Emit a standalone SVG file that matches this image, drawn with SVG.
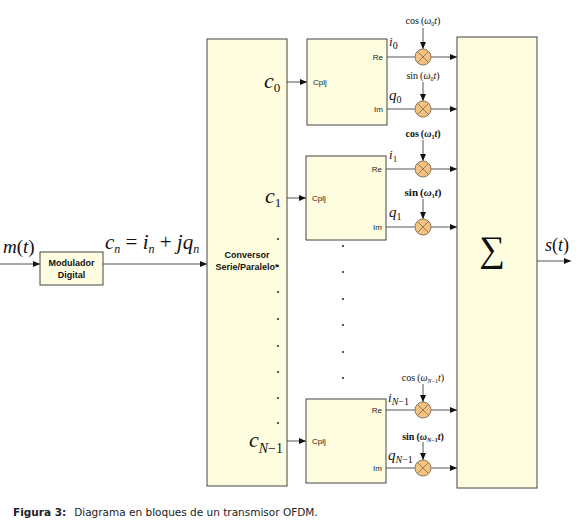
<svg xmlns="http://www.w3.org/2000/svg" width="577" height="530" viewBox="0 0 577 530">
<style>
.box{fill:#fffde0;stroke:#444;stroke-width:1}
.mul{fill:#f5c27f;stroke:#8a7a66;stroke-width:1}
.x{stroke:#7a6a55;stroke-width:0.8}
.ln{stroke:#555;stroke-width:1;fill:none}
.s{font-family:"Liberation Sans",Arial,sans-serif;font-size:8px;fill:#222}
.b{font-family:"Liberation Sans",Arial,sans-serif;font-size:9px;font-weight:bold;fill:#111}
.m{font-family:"Liberation Serif","Times New Roman",serif;font-style:italic;fill:#111}
.n{font-family:"Liberation Serif","Times New Roman",serif;font-style:normal;fill:#111}
.cap{font-family:"DejaVu Sans",Verdana,sans-serif;font-size:10.5px;fill:#222}
.dot{fill:#222}
</style>
<defs>
<marker id="ah" markerWidth="8" markerHeight="6" refX="7" refY="3" orient="auto" markerUnits="userSpaceOnUse">
<path d="M0,0 L7,3 L0,6 z" fill="#111"/>
</marker>
<g id="mx">
<circle r="8" class="mul"/>
<line x1="-5.6" y1="-5.6" x2="5.6" y2="5.6" class="x"/>
<line x1="-5.6" y1="5.6" x2="5.6" y2="-5.6" class="x"/>
</g>
</defs>
<g id="connectors">
<line x1="0" y1="264" x2="40" y2="264" class="ln" marker-end="url(#ah)"/>
<line x1="103" y1="264" x2="207" y2="264" class="ln" marker-end="url(#ah)"/>
<line x1="287" y1="82" x2="307" y2="82" class="ln" marker-end="url(#ah)"/>
<line x1="287" y1="198" x2="306" y2="198" class="ln" marker-end="url(#ah)"/>
<line x1="287" y1="441" x2="306" y2="441" class="ln" marker-end="url(#ah)"/>
<line x1="387" y1="57" x2="415" y2="57" class="ln"/>
<line x1="431" y1="57" x2="457" y2="57" class="ln" marker-end="url(#ah)"/>
<line x1="387" y1="109" x2="415" y2="109" class="ln"/>
<line x1="431" y1="109" x2="457" y2="109" class="ln" marker-end="url(#ah)"/>
<line x1="386" y1="169" x2="415" y2="169" class="ln"/>
<line x1="431" y1="169" x2="457" y2="169" class="ln" marker-end="url(#ah)"/>
<line x1="386" y1="227" x2="415" y2="227" class="ln"/>
<line x1="431" y1="227" x2="457" y2="227" class="ln" marker-end="url(#ah)"/>
<line x1="386" y1="410" x2="415" y2="410" class="ln"/>
<line x1="431" y1="410" x2="457" y2="410" class="ln" marker-end="url(#ah)"/>
<line x1="386" y1="468" x2="415" y2="468" class="ln"/>
<line x1="431" y1="468" x2="457" y2="468" class="ln" marker-end="url(#ah)"/>
<line x1="423" y1="28" x2="423" y2="49" class="ln" marker-end="url(#ah)"/>
<line x1="423" y1="82" x2="423" y2="101" class="ln" marker-end="url(#ah)"/>
<line x1="423" y1="140" x2="423" y2="161" class="ln" marker-end="url(#ah)"/>
<line x1="423" y1="199" x2="423" y2="219" class="ln" marker-end="url(#ah)"/>
<line x1="423" y1="384" x2="423" y2="402" class="ln" marker-end="url(#ah)"/>
<line x1="423" y1="442" x2="423" y2="460" class="ln" marker-end="url(#ah)"/>
<line x1="537" y1="261" x2="571" y2="261" class="ln" marker-end="url(#ah)"/>
</g>
<g id="modulador">
<rect x="40" y="252" width="63" height="33" class="box"/>
<text x="71.5" y="266" class="b" text-anchor="middle">Modulador</text>
<text x="71.5" y="278" class="b" text-anchor="middle">Digital</text>
</g>
<g id="conversor">
<rect x="207" y="39" width="80" height="447" class="box"/>
<text x="247" y="258" class="b" font-size="8" text-anchor="middle">Conversor</text>
<text x="247" y="270" class="b" font-size="8" text-anchor="middle">Serie/Paralelo*</text>
</g>
<g id="cplj0">
<rect x="307" y="39" width="80" height="86" class="box"/>
<text x="313" y="85" class="s">Cplj</text>
<text x="383" y="60" class="s" text-anchor="end">Re</text>
<text x="383" y="112" class="s" text-anchor="end">Im</text>
</g>
<g id="cplj1">
<rect x="306" y="156" width="80" height="84" class="box"/>
<text x="312" y="201" class="s">Cplj</text>
<text x="382" y="172" class="s" text-anchor="end">Re</text>
<text x="382" y="230" class="s" text-anchor="end">Im</text>
</g>
<g id="cpljN">
<rect x="306" y="399" width="80" height="84" class="box"/>
<text x="312" y="444" class="s">Cplj</text>
<text x="382" y="413" class="s" text-anchor="end">Re</text>
<text x="382" y="471" class="s" text-anchor="end">Im</text>
</g>
<g id="sum">
<rect x="457" y="37" width="80" height="451" class="box"/>
<text x="492" y="261" class="n" font-size="36" text-anchor="middle">∑</text>
</g>
<g id="multipliers">
<use href="#mx" x="423" y="57"/>
<use href="#mx" x="423" y="109"/>
<use href="#mx" x="423" y="169"/>
<use href="#mx" x="423" y="227"/>
<use href="#mx" x="423" y="410"/>
<use href="#mx" x="423" y="468"/>
</g>
<g id="labels">
<text x="3" y="253" class="m" font-size="19">m<tspan class="n">(</tspan>t<tspan class="n">)</tspan></text>
<text x="105" y="249" class="m" font-size="21">c<tspan font-size="12" dy="4">n</tspan><tspan class="n" dy="-4"> = </tspan>i<tspan font-size="12" dy="4">n</tspan><tspan class="n" dy="-4"> + </tspan>jq<tspan font-size="12" dy="4">n</tspan></text>
<text x="264" y="88" class="m" font-size="22">c<tspan class="n" font-size="13" dy="4">0</tspan></text>
<text x="265" y="203" class="m" font-size="22">c<tspan class="n" font-size="13" dy="4">1</tspan></text>
<text x="249" y="447" class="m" font-size="22">c<tspan font-size="14" dy="6">N</tspan><tspan class="n" font-size="14">−1</tspan></text>
<text x="389" y="46" class="m" font-size="13">i<tspan class="n" font-size="10" dy="3">0</tspan></text>
<text x="389" y="100" class="m" font-size="15">q<tspan class="n" font-size="10" dy="3">0</tspan></text>
<text x="389" y="159" class="m" font-size="13">i<tspan class="n" font-size="9" dy="3">1</tspan></text>
<text x="389" y="217" class="m" font-size="15">q<tspan class="n" font-size="10" dy="3">1</tspan></text>
<text x="388" y="402" class="m" font-size="13">i<tspan font-size="10" dy="3">N</tspan><tspan class="n" font-size="10">−1</tspan></text>
<text x="388" y="460" class="m" font-size="15">q<tspan font-size="10" dy="3">N</tspan><tspan class="n" font-size="10">−1</tspan></text>
<text x="423" y="24" class="n" font-size="10" text-anchor="middle">cos<tspan dx="2">(</tspan><tspan class="m">ω</tspan><tspan class="n" font-size="6" dy="2">0</tspan><tspan class="m" dy="-2">t</tspan>)</text>
<text x="423" y="79" class="n" font-size="10" text-anchor="middle">sin<tspan dx="2">(</tspan><tspan class="m">ω</tspan><tspan class="n" font-size="6" dy="2">0</tspan><tspan class="m" dy="-2">t</tspan>)</text>
<text x="423" y="137" class="n" font-size="10" font-weight="bold" text-anchor="middle">cos<tspan dx="2">(</tspan><tspan class="m">ω</tspan><tspan class="n" font-size="6" dy="2">1</tspan><tspan class="m" dy="-2">t</tspan>)</text>
<text x="423" y="196" class="n" font-size="11" font-weight="bold" text-anchor="middle">sin<tspan dx="2">(</tspan><tspan class="m">ω</tspan><tspan class="n" font-size="6" dy="2">1</tspan><tspan class="m" dy="-2">t</tspan>)</text>
<text x="423" y="381" class="n" font-size="10" text-anchor="middle">cos<tspan dx="2">(</tspan><tspan class="m">ω</tspan><tspan class="m" font-size="6" dy="2">N</tspan><tspan font-size="6">−1</tspan><tspan class="m" dy="-2">t</tspan>)</text>
<text x="423" y="440" class="n" font-size="10" font-weight="bold" text-anchor="middle">sin<tspan dx="2">(</tspan><tspan class="m">ω</tspan><tspan class="m" font-size="6" dy="2">N</tspan><tspan font-size="6">−1</tspan><tspan class="m" dy="-2">t</tspan>)</text>
<text x="545" y="251" class="m" font-size="18">s<tspan class="n">(</tspan>t<tspan class="n">)</tspan></text>
</g>
<g id="dots">
<circle cx="278" cy="239" r="1" class="dot"/>
<circle cx="278" cy="266" r="1" class="dot"/>
<circle cx="278" cy="292" r="1" class="dot"/>
<circle cx="278" cy="319" r="1" class="dot"/>
<circle cx="278" cy="346" r="1" class="dot"/>
<circle cx="278" cy="372" r="1" class="dot"/>
<circle cx="278" cy="398" r="1" class="dot"/>
<circle cx="278" cy="423" r="1" class="dot"/>
<circle cx="343" cy="246" r="1" class="dot"/>
<circle cx="343" cy="272" r="1" class="dot"/>
<circle cx="343" cy="299" r="1" class="dot"/>
<circle cx="343" cy="325" r="1" class="dot"/>
<circle cx="343" cy="352" r="1" class="dot"/>
<circle cx="343" cy="378" r="1" class="dot"/>
</g>
<text x="13" y="516" class="cap"><tspan font-weight="bold">Figura 3:</tspan><tspan dx="8">Diagrama en bloques de un transmisor OFDM.</tspan></text>
</svg>
